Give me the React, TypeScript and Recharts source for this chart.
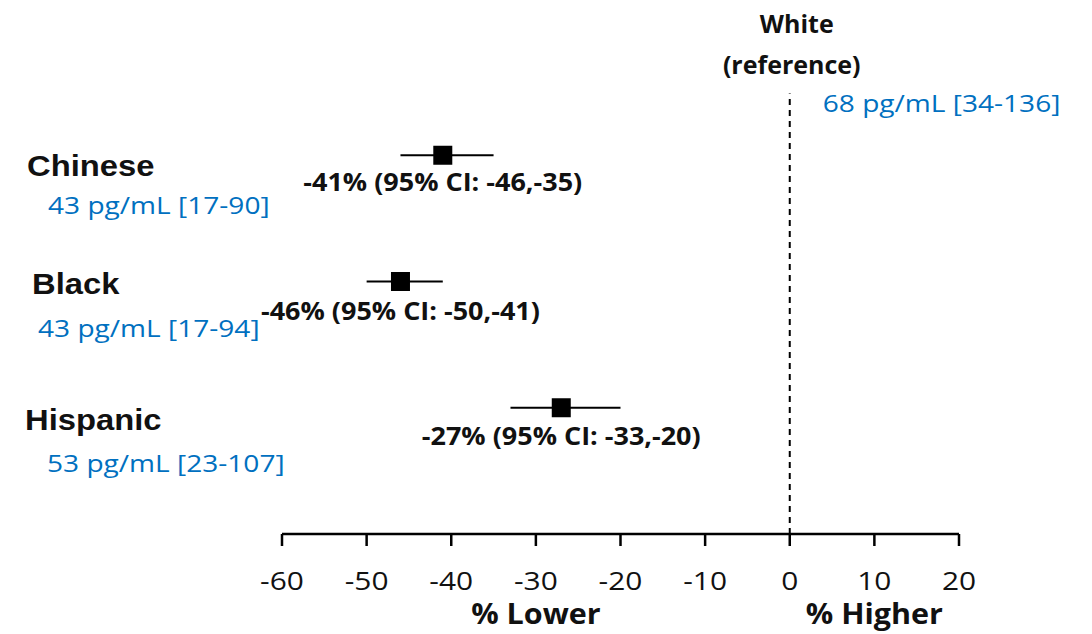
import React from 'react';
import { ScatterChart, Scatter, XAxis, YAxis, ErrorBar, ReferenceLine } from 'recharts';

const groups = ['Chinese', 'Black', 'Hispanic'];
const estimates = [-41, -46, -27];
const ciLow = [-46, -50, -33];
const ciHigh = [-35, -41, -20];
const groupLevels = ['43 pg/mL [17-90]', '43 pg/mL [17-94]', '53 pg/mL [23-107]'];
const referenceGroup = ['White', '(reference)'];
const referenceLevel = '68 pg/mL [34-136]';
const xTicks = [-60, -50, -40, -30, -20, -10, 0, 10, 20];
const axisCaptions = [
  { at: -30, text: '% Lower' },
  { at: 10, text: '% Higher' },
];

// where the side texts sit around each row
const rowText = [
  { nameX: 27, nameDy: 21, noteX: 48, noteDy: 59, ciDy: 36 },
  { nameX: 32, nameDy: 13, noteX: 38, noteDy: 56, ciDy: 39 },
  { nameX: 25, nameDy: 22, noteX: 47, noteDy: 64, ciDy: 37 },
];

const rows = groups.map((g, i) => ({
  idx: i,
  group: g,
  rank: groups.length - i,
  est: estimates[i],
  err: [estimates[i] - ciLow[i], ciHigh[i] - estimates[i]],
  ci: `${estimates[i]}% (95% CI: ${ciLow[i]},${ciHigh[i]})`,
  note: groupLevels[i],
}));

const OPEN = "'Open Sans', 'DejaVu Sans', sans-serif";
const ARIAL = "'Liberation Sans', Arial, sans-serif";
const BLUE = '#0070C0';
const INK = '#111';

// the source picture is stretched sideways, so widen text around its anchor
const sx = (x: number, s: number) => `matrix(${s},0,0,1,${x * (1 - s)},0)`;

const Marker = (props: any) => {
  const { cx, cy, payload } = props;
  const t = rowText[payload.idx];
  return (
    <g>
      <rect x={cx - 9.5} y={cy - 9.5} width={19} height={19} fill="#000" />
      <text x={cx} y={cy + t.ciDy} textAnchor="middle" fontFamily={OPEN} fontWeight={700}
        fontSize={25} fill={INK} transform={sx(cx, 1.08)}>
        {payload.ci}
      </text>
      <text x={t.nameX} y={cy + t.nameDy} fontFamily={ARIAL} fontWeight={700}
        fontSize={29} fill={INK} transform={sx(t.nameX, 1.13)}>
        {payload.group}
      </text>
      <text x={t.noteX} y={cy + t.noteDy} fontFamily={OPEN} fontSize={24}
        fill={BLUE} transform={sx(t.noteX, 1.17)}>
        {payload.note}
      </text>
    </g>
  );
};

const Tick = (props: any) => {
  const { x, y, payload } = props;
  const cap = axisCaptions.find((c) => c.at === payload.value);
  return (
    <g>
      <text x={x} y={y + 44} textAnchor="middle" fontFamily={OPEN} fontSize={26}
        fill={INK} transform={sx(x, 1.15)}>
        {payload.value}
      </text>
      {cap && (
        <text x={x} y={y + 78} textAnchor="middle" fontFamily={OPEN} fontWeight={700}
          fontSize={28} fill={INK} transform={sx(x, 1.09)}>
          {cap.text}
        </text>
      )}
    </g>
  );
};

const RefLabel = (props: any) => {
  const vb = props.viewBox || {};
  const x = vb.x ?? 0;
  const top = vb.y ?? 0;
  return (
    <g>
      <text x={x + 7} y={top - 60} textAnchor="middle" fontFamily={OPEN} fontWeight={700}
        fontSize={25} fill={INK}>
        {referenceGroup[0]}
      </text>
      <text x={x + 2} y={top - 19} textAnchor="middle" fontFamily={OPEN} fontWeight={700}
        fontSize={25} fill={INK}>
        {referenceGroup[1]}
      </text>
      <text x={x + 33} y={top + 19} fontFamily={OPEN} fontSize={24} fill={BLUE}
        transform={sx(x + 33, 1.17)}>
        {referenceLevel}
      </text>
    </g>
  );
};

export default function App() {
  return (
    <div style={{ position: 'absolute', left: 0, top: 0, background: '#fff' }}>
      <ScatterChart width={1092} height={634} margin={{ top: 29, right: 133, bottom: 0, left: 282 }}>
        <XAxis
          type="number"
          dataKey="est"
          domain={[-60, 20]}
          ticks={xTicks}
          interval={0}
          height={100}
          tickSize={12}
          tickMargin={0}
          axisLine={{ stroke: '#000', strokeWidth: 2.5 }}
          tickLine={{ stroke: '#000', strokeWidth: 2.5 }}
          tick={<Tick />}
        />
        <YAxis type="number" dataKey="rank" domain={[0, 4]} hide width={0} />
        <ReferenceLine
          segment={[{ x: 0, y: 0 }, { x: 0, y: 3.49 }]}
          stroke="#000"
          strokeWidth={2}
          strokeDasharray="6 5"
          label={<RefLabel />}
        />
        <Scatter data={rows} shape={<Marker />} isAnimationActive={false}>
          <ErrorBar dataKey="err" direction="x" width={0} stroke="#000" strokeWidth={2} />
        </Scatter>
      </ScatterChart>
    </div>
  );
}
